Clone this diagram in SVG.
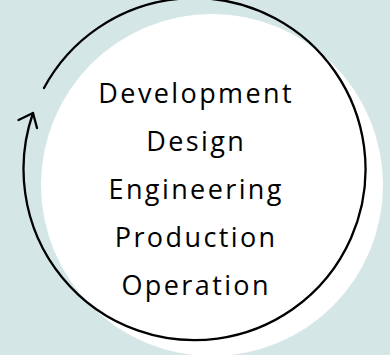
<svg xmlns="http://www.w3.org/2000/svg" width="390" height="355" viewBox="0 0 390 355">
<style>
.t{font-family:"Open Sans","Liberation Sans",sans-serif;font-size:27px;fill:#000;text-anchor:middle;letter-spacing:2.4px}
.c{fill:none;stroke:#000;stroke-width:2.3;stroke-linecap:round;stroke-linejoin:round}
</style>
<rect width="390" height="355" fill="#d4e7e6"/>
<g id="bg-circle"><circle cx="212" cy="185" r="171" fill="#fff"/></g>
<g id="connectors">
<path class="c" d="M44,88 A171,171 0 1 1 33,113"/>
<path class="c" d="M18.5,120 L33,113 L37,128"/>
</g>
<g id="labels">
<text class="t" x="196.2" y="103">Development</text>
<text class="t" x="196.2" y="151">Design</text>
<text class="t" x="196.2" y="199">Engineering</text>
<text class="t" x="196.2" y="247">Production</text>
<text class="t" x="196.2" y="295">Operation</text>
</g>
</svg>
